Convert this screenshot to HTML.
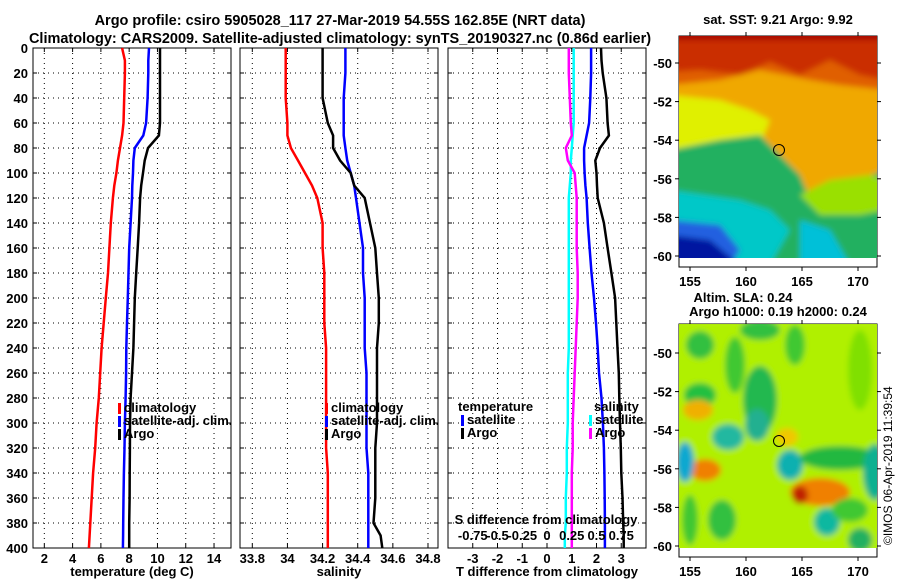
<!DOCTYPE html>
<html><head><meta charset="utf-8"><style>
body{margin:0;background:#fff;}
svg{display:block;font-family:"Liberation Sans",sans-serif;}
.t{font-size:13px;font-weight:bold;fill:#000;}
</style></head><body>
<svg id="s" width="900" height="580" viewBox="0 0 900 580">
<text class="t" x="340" y="25" text-anchor="middle" style="font-size:14.5px">Argo profile: csiro 5905028_117 27-Mar-2019 54.55S 162.85E (NRT data)</text>
<text class="t" x="340" y="43" text-anchor="middle" style="font-size:14.5px">Climatology: CARS2009. Satellite-adjusted climatology: synTS_20190327.nc (0.86d earlier)</text>
<g id="panels"></g>
<defs>
<clipPath id="c1"><rect x="679" y="36" width="198" height="222"/></clipPath>
<clipPath id="c2"><rect x="679" y="324" width="198" height="224"/></clipPath>
<filter id="bl" x="-20%" y="-20%" width="140%" height="140%"><feGaussianBlur stdDeviation="3"/></filter>
<filter id="bl2" x="-20%" y="-20%" width="140%" height="140%"><feGaussianBlur stdDeviation="3"/></filter>
</defs>
<g>
<text class="t" x="778" y="24" text-anchor="middle">sat. SST: 9.21 Argo: 9.92</text>
<rect x="679" y="36" width="198" height="231" fill="#fff" stroke="#000"/>
<g clip-path="url(#c1)" filter="url(#bl2)">
<rect x="670" y="30" width="215" height="235" fill="#f0a800"/>
<path d="M670,30 H885 V80 L860,75 L830,60 L800,75 L770,62 L740,75 L700,70 L670,72Z" fill="#a80000"/>
<path d="M670,40 H885 V90 L840,85 L810,80 L760,70 L720,80 L670,85Z" fill="#d84000" opacity="0.7"/>
<path d="M670,95 L720,100 L750,110 L770,120 L760,145 L700,150 L670,150Z" fill="#e0f000"/>
<path d="M670,150 L720,140 L760,135 L775,150 L800,175 L810,200 L830,190 L860,180 L885,170 V265 H670Z" fill="#20b060"/>
<path d="M800,195 L830,180 L870,175 L885,180 V210 L860,215 L820,215Z" fill="#9ae000"/>
<path d="M670,190 L740,200 L770,210 L790,230 L770,265 H670Z" fill="#00c8c8"/>
<path d="M800,220 L830,230 L850,265 H800Z" fill="#00c0d8"/>
<path d="M670,220 L720,225 L740,250 L730,265 H670Z" fill="#2060e0"/>
<path d="M670,235 L710,240 L740,265 H670Z" fill="#0018a0"/>
</g>
<circle cx="779" cy="150" r="5.5" fill="none" stroke="#000"/>
</g>
<g>
<text class="t" x="743" y="302" text-anchor="middle">Altim. SLA: 0.24</text>
<text class="t" x="778" y="316" text-anchor="middle">Argo h1000: 0.19 h2000: 0.24</text>
<rect x="679" y="324" width="198" height="233" fill="#fff" stroke="#000"/>
<g clip-path="url(#c2)" filter="url(#bl)">
<rect x="670" y="320" width="215" height="235" fill="#b0f000"/>
<ellipse cx="700" cy="345" rx="14" ry="14" fill="#30c040"/>
<ellipse cx="760" cy="330" rx="20" ry="10" fill="#30c040"/>
<ellipse cx="795" cy="345" rx="10" ry="20" fill="#40c830"/>
<ellipse cx="700" cy="395" rx="16" ry="12" fill="#20c040"/>
<ellipse cx="735" cy="365" rx="10" ry="28" fill="#40c830"/>
<ellipse cx="760" cy="400" rx="17" ry="34" fill="#20b850"/>
<ellipse cx="728" cy="437" rx="16" ry="13" fill="#20b8a0"/>
<ellipse cx="757" cy="425" rx="12" ry="16" fill="#20b090"/>
<ellipse cx="790" cy="465" rx="13" ry="15" fill="#10b0b0"/>
<ellipse cx="698" cy="410" rx="15" ry="10" fill="#f0b000"/>
<ellipse cx="705" cy="470" rx="16" ry="11" fill="#f08000"/>
<ellipse cx="787" cy="437" rx="11" ry="9" fill="#f0c800"/>
<ellipse cx="820" cy="492" rx="30" ry="14" fill="#f08000"/>
<ellipse cx="800" cy="495" rx="8" ry="9" fill="#c02000"/>
<ellipse cx="840" cy="458" rx="40" ry="12" fill="#20b840"/>
<ellipse cx="685" cy="462" rx="9" ry="20" fill="#10a8d0"/>
<ellipse cx="827" cy="522" rx="13" ry="14" fill="#10b8a0"/>
<ellipse cx="860" cy="540" rx="12" ry="12" fill="#20b060"/>
<ellipse cx="722" cy="520" rx="14" ry="20" fill="#30c040"/>
<ellipse cx="690" cy="520" rx="8" ry="25" fill="#40c830"/>
<ellipse cx="875" cy="472" rx="12" ry="28" fill="#10b090"/>
<ellipse cx="860" cy="370" rx="12" ry="40" fill="#80e000"/>
<ellipse cx="850" cy="510" rx="18" ry="12" fill="#40c830"/>
</g>
<circle cx="779" cy="441" r="5.5" fill="none" stroke="#000"/>
</g>
<text x="892" y="545" font-size="12" transform="rotate(-90 892 545)">©IMOS 06-Apr-2019 11:39:54</text>
</svg>
<script>
const depths=[0,10,20,40,60,70,80,90,100,110,120,140,160,180,200,220,240,260,280,300,320,340,360,380,390,400];
const tClim=[7.5,7.7,7.7,7.65,7.6,7.5,7.35,7.2,7.1,6.95,6.85,6.7,6.6,6.5,6.35,6.2,6.05,5.95,5.85,5.7,5.6,5.45,5.35,5.25,5.2,5.15];
const tSat=[9.4,9.35,9.35,9.3,9.2,9.0,8.4,8.3,8.27,8.22,8.2,8.1,8.0,7.95,7.9,7.85,7.8,7.78,7.75,7.7,7.67,7.63,7.6,7.58,7.57,7.56];
const tArgo=[10.18,10.18,10.18,10.18,10.18,10.1,9.33,9.1,8.98,8.85,8.77,8.7,8.6,8.5,8.4,8.35,8.3,8.2,8.1,8.06,8.05,8.04,8.03,8.0,8.0,8.0];
const sClim=[33.99,33.99,33.99,33.99,34.0,34.0,34.02,34.06,34.1,34.14,34.17,34.2,34.2,34.21,34.21,34.21,34.22,34.22,34.22,34.22,34.22,34.23,34.23,34.23,34.23,34.23];
const sSat=[34.33,34.33,34.33,34.32,34.32,34.32,34.33,34.34,34.36,34.38,34.39,34.41,34.43,34.43,34.44,34.44,34.44,34.45,34.45,34.45,34.45,34.46,34.46,34.46,34.46,34.46];
const sArgo=[34.2,34.2,34.2,34.2,34.23,34.26,34.26,34.3,34.36,34.38,34.44,34.47,34.5,34.51,34.52,34.52,34.51,34.51,34.51,34.51,34.5,34.5,34.5,34.49,34.53,34.54];
const dtSat=[1.78,1.78,1.78,1.75,1.7,1.6,1.5,1.5,1.52,1.55,1.6,1.65,1.72,1.8,1.9,1.98,2.05,2.1,2.2,2.26,2.3,2.32,2.33,2.34,2.34,2.34];
const dtArgo=[2.18,2.2,2.25,2.4,2.45,2.5,2.14,1.95,2.0,2.02,2.05,2.3,2.45,2.6,2.75,2.8,2.85,2.9,2.92,2.95,2.98,3.0,3.05,3.08,3.1,3.1];
const dsSat=[0.27,0.27,0.27,0.27,0.27,0.26,0.25,0.24,0.24,0.23,0.22,0.22,0.22,0.22,0.22,0.22,0.22,0.21,0.21,0.21,0.2,0.2,0.19,0.19,0.18,0.18];
const dsArgo=[0.22,0.22,0.22,0.23,0.24,0.25,0.19,0.21,0.28,0.29,0.3,0.3,0.3,0.31,0.31,0.3,0.29,0.28,0.27,0.26,0.26,0.25,0.25,0.25,0.25,0.25];
const yTicks=[0,20,40,60,80,100,120,140,160,180,200,220,240,260,280,300,320,340,360,380,400];
const tTicks=[2,4,6,8,10,12,14];
const sTicks=[33.8,34,34.2,34.4,34.6,34.8];
const dTicks=[-3,-2,-1,0,1,2,3];
const dsTicks=["-0.75","-0.5","-0.25","0","0.25","0.5","0.75"];
const NS='http://www.w3.org/2000/svg';
const root=document.getElementById('panels');
const Y0=48,Y1=548;
const yS=d=>Y0+(d/400)*(Y1-Y0);
function mk(tag,at,par){const e=document.createElementNS(NS,tag);for(const k in at)e.setAttribute(k,at[k]);(par||root).appendChild(e);return e;}
function panel(name,x0,x1,lo,hi,ticks,lbl,ylabels){
  const g=mk('g',{});
  
  
  const xs=v=>x0+(v-lo)/(hi-lo)*(x1-x0);
  ticks.forEach(t=>{const x=xs(t);mk('line',{x1:x,x2:x,y1:Y0,y2:Y1,stroke:'#000','stroke-width':1,'stroke-dasharray':'1 4'},g);
    mk('line',{x1:x,x2:x,y1:Y1,y2:Y1-4,stroke:'#000'},g);mk('line',{x1:x,x2:x,y1:Y0,y2:Y0+4,stroke:'#000'},g);
    const tx=mk('text',{x:x,y:Y1+15,'text-anchor':'middle',class:'t'},g);tx.textContent=t;
    
    });
  yTicks.forEach(d=>{const y=yS(d);mk('line',{x1:x0,x2:x1,y1:y,y2:y,stroke:'#000','stroke-dasharray':'1 4'},g);
    mk('line',{x1:x0,x2:x0+4,y1:y,y2:y,stroke:'#000'},g);mk('line',{x1:x1,x2:x1-4,y1:y,y2:y,stroke:'#000'},g);
    if(ylabels){const tx=mk('text',{x:28,y:y+5,'text-anchor':'end',class:'t'},g);tx.textContent=d;
      
      }});
  mk('rect',{x:x0,y:Y0,width:x1-x0,height:Y1-Y0,fill:'none',stroke:'#000'},g);
  const l=mk('text',{x:(x0+x1)/2,y:576,'text-anchor':'middle',class:'t'},g);l.textContent=lbl;
  
  
  return {g,xs};
}
function line(p,vals,col,name,scale){
  const pts=vals.map((v,i)=>p.xs(v*(scale||1)).toFixed(1)+','+yS(depths[i]).toFixed(1)).join(' ');
  const e=mk('polyline',{points:pts,fill:'none',stroke:col,'stroke-width':2.5},p.g);
  
  
}
function legend(p,x,y,items){items.forEach((it,i)=>{mk('rect',{x:x,y:y+i*13-9,width:3,height:11,fill:it[1]},p.g);
  const t=mk('text',{x:x+6,y:y+i*13,class:'t'},p.g);t.textContent=it[0];
  
  });}
const p1=panel('temperature-panel',33,231,1.2,15.2,tTicks,'temperature (deg C)',true);
line(p1,tClim,'#f00','temp-climatology');line(p1,tSat,'#00f','temp-satellite');line(p1,tArgo,'#000','temp-argo');
legend(p1,118,412,[['climatology','#f00'],['satellite-adj. clim.','#00f'],['Argo','#000']]);
const p2=panel('salinity-panel',240,438,33.73,34.857,sTicks,'salinity',false);
line(p2,sClim,'#f00','sal-climatology');line(p2,sSat,'#00f','sal-satellite');line(p2,sArgo,'#000','sal-argo');
legend(p2,325,412,[['climatology','#f00'],['satellite-adj. clim.','#00f'],['Argo','#000']]);
const p3=panel('difference-panel',448,646,-4,4,dTicks,'T difference from climatology',false);
line(p3,dsSat,'#0ff','sdiff-satellite',4);line(p3,dsArgo,'#f0f','sdiff-argo',4);
line(p3,dtSat,'#00f','tdiff-satellite');line(p3,dtArgo,'#000','tdiff-argo');
let tt=mk('text',{x:458,y:411,class:'t'},p3.g);tt.textContent='temperature';
legend(p3,461,424,[['satellite','#00f'],['Argo','#000']]);
tt=mk('text',{x:594,y:411,class:'t'},p3.g);tt.textContent='salinity';
legend(p3,589,424,[['satellite','#0ff'],['Argo','#f0f']]);
tt=mk('text',{x:546,y:524,'text-anchor':'middle',class:'t'},p3.g);tt.textContent='S difference from climatology';
dsTicks.forEach((s,i)=>{const t=mk('text',{x:p3.xs(dTicks[i]),y:540,'text-anchor':'middle',class:'t'},p3.g);t.textContent=s;
  
  });
function mapAxes(name,top,bot,latTop){
  const g=mk('g',{},document.getElementById('s'));
  
  
  [155,160,165,170].forEach(lo=>{const x=690+(lo-155)*11.2;mk('line',{x1:x,x2:x,y1:top,y2:top-4,stroke:'#000'},g);mk('line',{x1:x,x2:x,y1:bot,y2:bot+4,stroke:'#000'},g);
    const t=mk('text',{x:x,y:bot+19,'text-anchor':'middle',class:'t'},g);t.textContent=lo;});
  [-50,-52,-54,-56,-58,-60].forEach(la=>{const y=latTop+(-50-la)*19.3;mk('line',{x1:675,x2:679,y1:y,y2:y,stroke:'#000'},g);mk('line',{x1:877,x2:881,y1:y,y2:y,stroke:'#000'},g);
    const t=mk('text',{x:672,y:y+5,'text-anchor':'end',class:'t'},g);t.textContent=la;});
}
mapAxes('sst-map-axes',36,267,63);
mapAxes('sla-map-axes',324,557,353);
</script>
</body></html>
